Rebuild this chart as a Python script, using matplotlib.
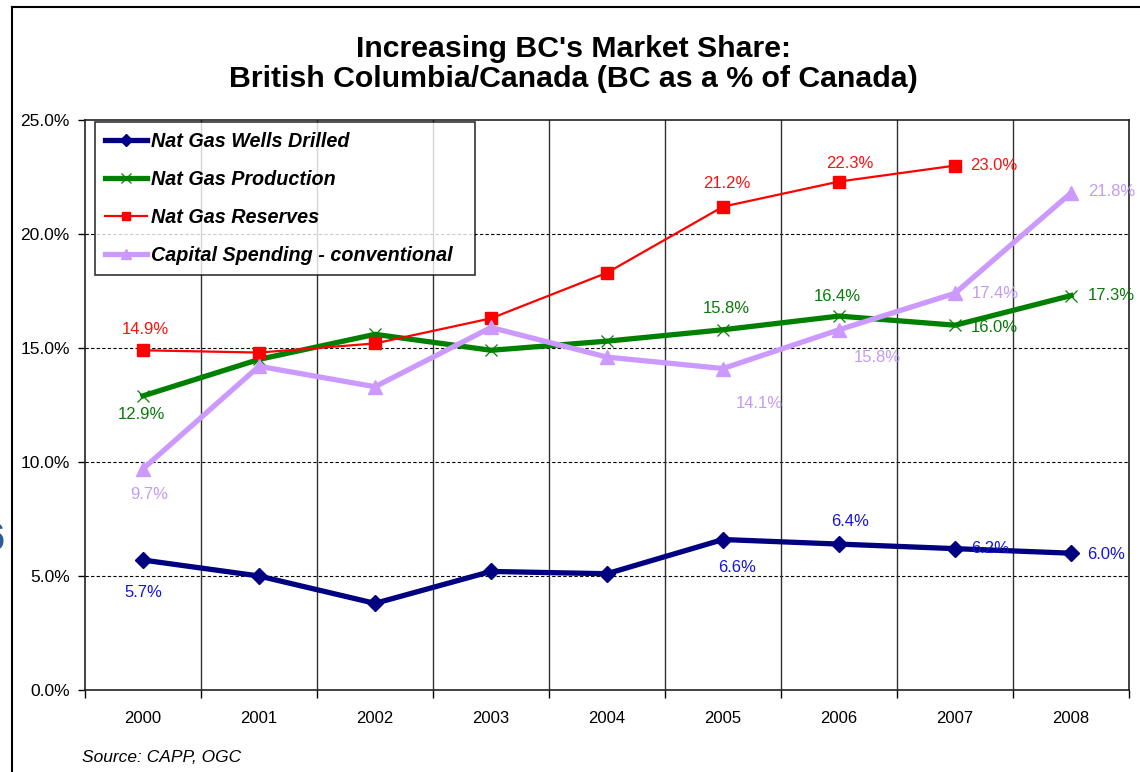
import numpy as np
import matplotlib
matplotlib.use("Agg")
import matplotlib.pyplot as plt
from matplotlib.lines import Line2D

plt.rcParams['font.family'] = ['Liberation Sans', 'DejaVu Sans']

# ---------------- data ----------------
years = ['2000', '2001', '2002', '2003', '2004', '2005', '2006', '2007', '2008']
wells_drilled = [5.7, 5.0, 3.8, 5.2, 5.1, 6.6, 6.4, 6.2, 6.0]
gas_production = [12.9, 14.5, 15.6, 14.9, 15.3, 15.8, 16.4, 16.0, 17.3]
gas_reserves = [14.9, 14.8, 15.2, 16.3, 18.3, 21.2, 22.3, 23.0, np.nan]
capital_spending = [9.7, 14.2, 13.3, 15.9, 14.6, 14.1, 15.8, 17.4, 21.8]

series_names = ['Nat Gas Wells Drilled', 'Nat Gas Production',
                'Nat Gas Reserves', 'Capital Spending - conventional']
y_ticks = [0, 5, 10, 15, 20, 25]

title_text = "Increasing BC's Market Share:\nBritish Columbia/Canada (BC as a % of Canada)"
source_text = "Source: CAPP, OGC"

# labelled points: index -> (dx px, dy px (down positive), ha)
wells_labels = {0: (0, 32, 'center'), 5: (14, 28, 'center'), 6: (11, -23, 'center'),
                7: (16, 0, 'left'), 8: (16, 1, 'left')}
prod_labels = {0: (-2, 19, 'center'), 5: (3, -21, 'center'), 6: (-2, -20, 'center'),
               7: (16, 2, 'left'), 8: (17, 0, 'left')}
res_labels = {0: (2, -21, 'center'), 5: (4, -23, 'center'), 6: (11, -18, 'center'),
              7: (15, 0, 'left')}
cap_labels = {0: (6, 26, 'center'), 5: (36, 35, 'center'), 6: (38, 28, 'center'),
              7: (17, 0, 'left'), 8: (17, -1, 'left')}

# ---------------- figure ----------------
W, H = 1140, 772
fig = plt.figure(figsize=(W / 100, H / 100), dpi=100)
fig.patch.set_facecolor('white')

L, R, T, B = 85, 1129, 120, 690
ax = fig.add_axes([L / W, 1 - B / H, (R - L) / W, (B - T) / H])

x = np.arange(len(years))

styles = [
    dict(color='#000080', lw=3.8, marker='D', ms=8.5, mec='#000080', mfc='#000080'),
    dict(color='#008000', lw=3.8, marker='x', ms=9, mew=0.9, mec='#008000'),
    dict(color='#FF0000', lw=1.6, marker='s', ms=8.5, mec='#FF0000', mfc='#FF0000'),
    dict(color='#CC99FF', lw=3.8, marker='^', ms=10.5, mec='#CC99FF', mfc='#CC99FF'),
]
data = [wells_drilled, gas_production, gas_reserves, capital_spending]
label_specs = [wells_labels, prod_labels, res_labels, cap_labels]
label_colors = ['#1414D8', '#0A7A0A', '#FF1010', '#C39BF5']

handles = []
for i, (vals, st, nm) in enumerate(zip(data, styles, series_names)):
    h, = ax.plot(x, vals, label=nm, zorder=3 + i, **st)
    handles.append(h)
    for idx, (dx, dy, ha) in label_specs[i].items():
        ax.annotate(f"{vals[idx]:.1f}%", (x[idx], vals[idx]),
                    xytext=(dx * 0.72, -dy * 0.72), textcoords='offset points',
                    ha=ha, va='center', fontsize=12, color=label_colors[i],
                    zorder=10)

ax.set_xlim(-0.5, len(years) - 0.5)
ax.set_ylim(0, 25)
ax.set_yticks(y_ticks)
ax.set_yticklabels([f"{v:.1f}%" for v in y_ticks], fontsize=12.5)
ax.tick_params(axis='y', length=5, width=1, direction='out', pad=6)

ax.set_xticks(x)
ax.set_xticklabels(years, fontsize=12)
ax.set_xticks(np.arange(-0.5, len(years), 1.0), minor=True)
ax.tick_params(axis='x', which='major', length=0, pad=15)
ax.tick_params(axis='x', which='minor', length=6, width=1, direction='out')

# gridlines
for yv in y_ticks[1:-1]:
    ax.axhline(yv, color='black', lw=0.8, ls=(0, (3, 2)), zorder=1)
for xb in np.arange(0.5, len(years) - 1, 1.0):
    ax.axvline(xb, color='#303030', lw=1.0, zorder=1)

for sp in ax.spines.values():
    sp.set_color('#222222')
    sp.set_linewidth(1.2)

ax_w, ax_h = (R - L), (B - T)
leg_left, leg_top, leg_w = 10, 2, 380
leg = ax.legend(handles=handles, loc='upper left',
                bbox_to_anchor=(leg_left / ax_w, 1 - leg_top / ax_h - 0.2, leg_w / ax_w, 0.2),
                mode='expand',
                borderaxespad=0, frameon=True, fancybox=False,
                prop=dict(family='Liberation Sans', weight='bold', style='italic', size=14.2),
                handlelength=2.15, handletextpad=0.2, labelspacing=0.96,
                borderpad=0.5, markerscale=0.75)
leg.get_frame().set_edgecolor('black')
leg.get_frame().set_linewidth(1.2)
leg.set_zorder(20)

# title
fig.text(573 / W, 1 - 64 / H, title_text, ha='center', va='center',
         fontsize=21.8, fontweight='bold', linespacing=1.12)

# source
fig.text(82 / W, 1 - 757 / H, source_text, ha='left', va='center',
         fontsize=12.5, style='italic')

# frame lines of the slide
fig.add_artist(Line2D([12 / W, 12 / W], [0, 1 - 7 / H], transform=fig.transFigure,
                      color='black', lw=1.5))
fig.add_artist(Line2D([12 / W, 1], [1 - 7 / H, 1 - 7 / H], transform=fig.transFigure,
                      color='black', lw=1.5))
# cut-off glyph at left edge (part of the slide behind the chart)
fig.text(-16 / W, 1 - 540 / H, "6", ha='left', va='center', fontsize=27,
         fontweight='bold', color='#2B5A9A')

fig.savefig('out.png', dpi=100)
